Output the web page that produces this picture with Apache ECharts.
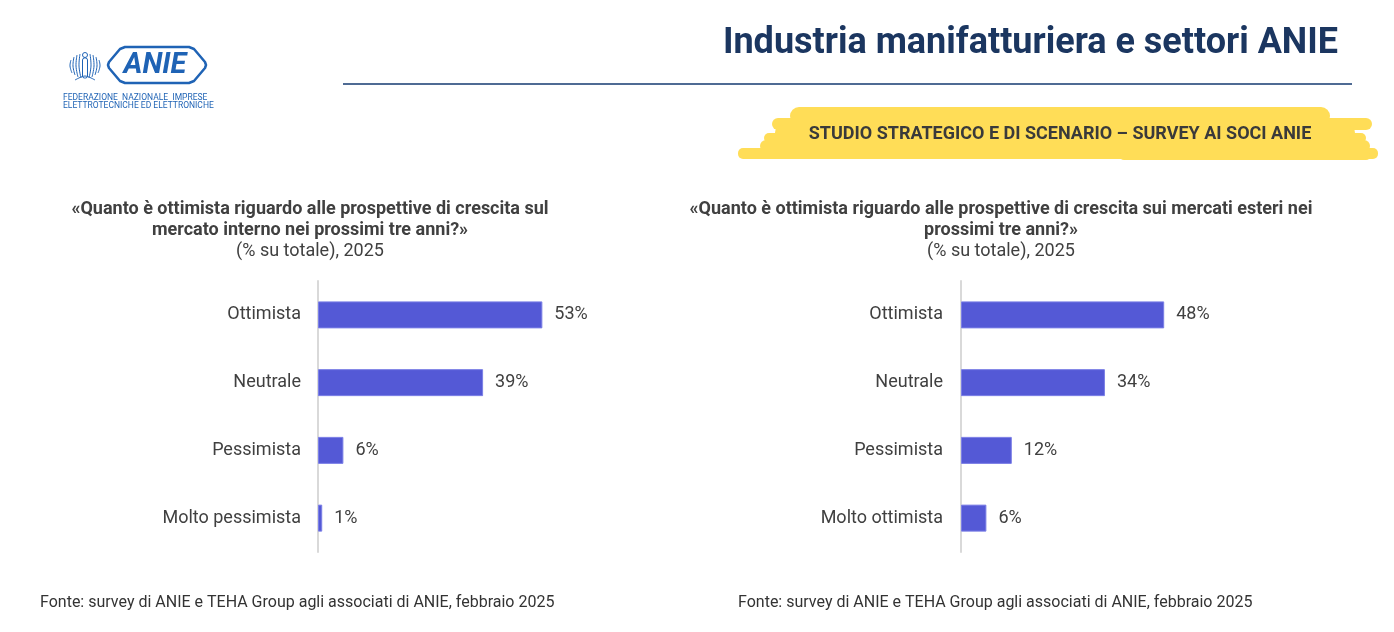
<!DOCTYPE html>
<html>
<head>
<meta charset="utf-8">
<script src="https://cdn.jsdelivr.net/npm/echarts@6/dist/echarts.min.js"></script>
<style>
html,body{margin:0;padding:0;background:#fff;}
#c{width:1394px;height:632px;}
</style>
</head>
<body>
<div id="c"></div>
<script>
const categoriesInterno = ['Ottimista', 'Neutrale', 'Pessimista', 'Molto pessimista'];
const valuesInterno = [53, 39, 6, 1];
const categoriesEsteri = ['Ottimista', 'Neutrale', 'Pessimista', 'Molto ottimista'];
const valuesEsteri = [48, 34, 12, 6];

const mainTitle = 'Industria manifatturiera e settori ANIE';
const bannerText = 'STUDIO STRATEGICO E DI SCENARIO – SURVEY AI SOCI ANIE';
const titleInterno = '«Quanto è ottimista riguardo alle prospettive di crescita sul\nmercato interno nei prossimi tre anni?»';
const titleEsteri = '«Quanto è ottimista riguardo alle prospettive di crescita sui mercati esteri nei\nprossimi tre anni?»';
const subTitle = '(% su totale), 2025';
const sourceText = 'Fonte: survey di ANIE e TEHA Group agli associati di ANIE, febbraio 2025';

const FONT = 'Roboto, "Noto Sans", sans-serif';
const BAR = '#5459d6';
const TXT = '#404040';
const LOGO = '#1f63b5';
const YEL = '#ffdd57';

const chart = echarts.init(document.getElementById('c'));

function yAx(gi, cats, margin) {
  return {
    type: 'category', gridIndex: gi, data: cats, inverse: true,
    axisLine: {show: true, lineStyle: {color: '#d9d9d9', width: 2}},
    axisTick: {show: false},
    axisLabel: {fontFamily: FONT, fontSize: 18, color: TXT, margin: margin}
  };
}
function xAx(gi) {
  return {type: 'value', gridIndex: gi, min: 0, max: 60, show: false, splitLine: {show: false}};
}
function ser(i, vals) {
  return {
    type: 'bar', xAxisIndex: i, yAxisIndex: i, data: vals, barWidth: 27,
    itemStyle: {color: BAR, borderColor: '#7b7fe6', borderWidth: 1},
    label: {show: true, position: 'right', distance: 12, formatter: '{c}%', fontFamily: FONT, fontSize: 18, color: TXT},
    silent: true
  };
}

// eagle (Confindustria-like) stylised strokes
const eagle = [];
const eagleLines = [
  [[71,60],[70,66],[72,73]],[[74,57],[73,66],[75,75]],[[77,55],[76,66],[78,77]],[[80,54],[79,66],[81,78]],
  [[90,54],[91,66],[89,78]],[[93,55],[94,66],[92,77]],[[96,57],[97,66],[95,75]],[[99,60],[100,66],[98,73]]
];
eagleLines.forEach(p => eagle.push({type: 'polyline', shape: {points: p, smooth: 0.4}, style: {stroke: LOGO, lineWidth: 1, fill: null}}));
eagle.push({type: 'rect', shape: {x: 82.5, y: 58, width: 5, height: 20, r: 2}, style: {stroke: LOGO, lineWidth: 1, fill: null}});
eagle.push({type: 'circle', shape: {cx: 85, cy: 55, r: 2.5}, style: {stroke: LOGO, lineWidth: 1, fill: null}});
eagle.push({type: 'polyline', shape: {points: [[75,80],[85,76],[95,80]], smooth: 0.3}, style: {stroke: LOGO, lineWidth: 1, fill: null}});

const logoOutline = [[125,47],[189,47],[194,49],[205,62],[206,65],[205,68],[194,81],[189,83],[125,83],[120,81],[109,68],[108,65],[109,62],[120,49]];

chart.setOption({
  animation: false,
  title: [
    {text: titleInterno, left: 305, top: 194, textAlign: 'center',
      textStyle: {fontFamily: FONT, fontSize: 18, fontWeight: 'bold', color: TXT, lineHeight: 21, align: 'center'}},
    {text: subTitle, left: 305, top: 236, textAlign: 'center',
      textStyle: {fontFamily: FONT, fontSize: 18, fontWeight: 'normal', color: TXT, lineHeight: 21}},
    {text: titleEsteri, left: 996, top: 194, textAlign: 'center',
      textStyle: {fontFamily: FONT, fontSize: 18, fontWeight: 'bold', color: TXT, lineHeight: 21, align: 'center'}},
    {text: subTitle, left: 996, top: 236, textAlign: 'center',
      textStyle: {fontFamily: FONT, fontSize: 18, fontWeight: 'normal', color: TXT, lineHeight: 21}}
  ],
  grid: [
    {left: 318, top: 281, width: 254, height: 271},
    {left: 961, top: 281, width: 254, height: 271}
  ],
  xAxis: [xAx(0), xAx(1)],
  yAxis: [yAx(0, categoriesInterno, 17), yAx(1, categoriesEsteri, 18)],
  series: [ser(0, valuesInterno), ser(1, valuesEsteri)],
  graphic: [
    // header
    {type: 'text', x: 1338, y: 44, style: {text: mainTitle, fontFamily: FONT, fontSize: 36, fontWeight: 'bold', fill: '#1b3660', align: 'right', verticalAlign: 'middle'}},
    {type: 'line', shape: {x1: 343, y1: 84, x2: 1352, y2: 84}, style: {stroke: '#4f6b94', lineWidth: 2}},
    // yellow brush banner
    {type: 'rect', shape: {x: 790, y: 107, width: 540, height: 18, r: 9}, style: {fill: YEL}},
    {type: 'rect', shape: {x: 772, y: 118, width: 600, height: 12, r: 6}, style: {fill: YEL}},
    {type: 'rect', shape: {x: 775, y: 125, width: 580, height: 20, r: 8}, style: {fill: YEL}},
    {type: 'rect', shape: {x: 764, y: 133, width: 602, height: 10, r: 5}, style: {fill: YEL}},
    {type: 'rect', shape: {x: 760, y: 140, width: 610, height: 12, r: 6}, style: {fill: YEL}},
    {type: 'rect', shape: {x: 738, y: 148, width: 640, height: 11, r: 5}, style: {fill: YEL}},
    {type: 'rect', shape: {x: 1120, y: 152, width: 250, height: 8, r: 4}, style: {fill: YEL}},
    {type: 'text', x: 1060, y: 134, style: {text: bannerText, fontFamily: FONT, fontSize: 18, fontWeight: 'bold', fill: '#3a3a3a', align: 'center', verticalAlign: 'middle'}},
    // logo
    {type: 'polygon', shape: {points: logoOutline}, style: {stroke: LOGO, lineWidth: 2.5, fill: null, lineJoin: 'round'}},
    {type: 'text', x: 155, y: 66, style: {text: 'ANIE', fontFamily: FONT, fontSize: 29, fontWeight: 'bold', fontStyle: 'italic', fill: LOGO, align: 'center', verticalAlign: 'middle'}},
    {type: 'text', x: 63, y: 98, style: {text: 'FEDERAZIONE  NAZIONALE  IMPRESE', fontFamily: FONT, fontSize: 8.5, fill: LOGO, verticalAlign: 'middle'}},
    {type: 'text', x: 63, y: 106, style: {text: 'ELETTROTECNICHE ED ELETTRONICHE', fontFamily: FONT, fontSize: 8.5, fill: LOGO, verticalAlign: 'middle'}},
    {type: 'group', children: eagle},
    // sources
    {type: 'text', x: 40, y: 603, style: {text: sourceText, fontFamily: FONT, fontSize: 16, fill: '#333', verticalAlign: 'middle'}},
    {type: 'text', x: 738, y: 603, style: {text: sourceText, fontFamily: FONT, fontSize: 16, fill: '#333', verticalAlign: 'middle'}}
  ]
});
</script>
</body>
</html>
